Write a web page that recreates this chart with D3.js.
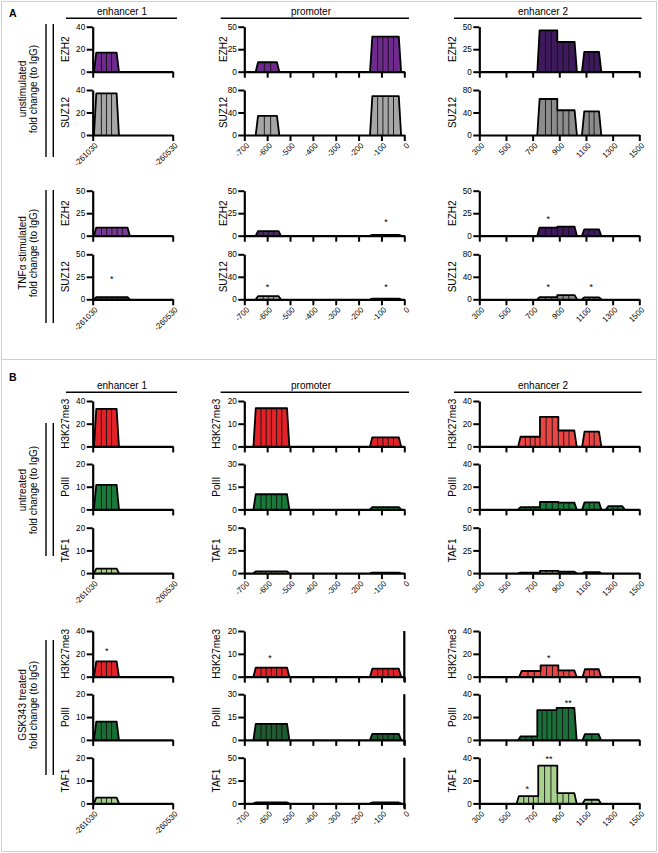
<!DOCTYPE html>
<html><head><meta charset="utf-8">
<script src="https://cdn.jsdelivr.net/npm/d3@7"></script>
<style>body{margin:0;background:#fff} svg text{font-family:"Liberation Sans",Arial,sans-serif;fill:#000}</style>
</head><body><svg id="c" width="658" height="853"></svg>
<script>
// ---------------- DATA ----------------
const columns = ["enhancer 1", "promoter", "enhancer 2"];
const enh1Ticks = [-261030, -260530];
const promTicks = [-700, -600, -500, -400, -300, -200, -100, 0];
const enh2Ticks = [300, 500, 700, 900, 1100, 1300, 1500];

// segments: [start, end, fold change]
// Panel A - unstimulated
const ezh2Unstim = [
  [[-261022, -260866, 17]],
  [[-650, -547, 10.5], [-150, -14, 39]],
  [[735, 885, 46], [885, 1032, 33], [1070, 1215, 22]]
];
const suz12Unstim = [
  [[-261022, -260866, 37]],
  [[-650, -547, 34], [-150, -14, 69]],
  [[735, 885, 64], [885, 1032, 44], [1070, 1215, 42]]
];
// Panel A - TNFα stimulated
const ezh2Tnf = [
  [[-261022, -260798, 9]],
  [[-650, -540, 5], [-150, -14, 0.8]],
  [[735, 885, 9], [885, 1032, 10], [1070, 1215, 7]]
];
const suz12Tnf = [
  [[-261022, -260798, 2.5]],
  [[-650, -540, 5.5], [-150, -14, 1.2]],
  [[735, 885, 4], [885, 1032, 7.5], [1070, 1215, 3.5]]
];
// Panel B - untreated
const h3Untr = [
  [[-261022, -260866, 33]],
  [[-660, -503, 16.8], [-150, -14, 4]],
  [[592, 755, 8.5], [755, 893, 26], [893, 1030, 14], [1072, 1215, 13]]
];
const polUntr = [
  [[-261022, -260866, 10.8]],
  [[-660, -503, 10], [-150, -14, 1.5]],
  [[592, 755, 2], [755, 893, 6.5], [893, 1030, 6], [1072, 1215, 6.2], [1250, 1390, 2.8]]
];
const tafUntr = [
  [[-261022, -260866, 2]],
  [[-660, -503, 1.8], [-150, -14, 0.5]],
  [[592, 755, 0.5], [755, 893, 2.5], [893, 1030, 1.5], [1072, 1215, 1]]
];
// Panel B - GSK343 treated
const h3Gsk = [
  [[-261022, -260866, 13.5]],
  [[-660, -503, 4], [-150, -14, 3.5]],
  [[600, 760, 5], [760, 893, 10], [893, 1030, 5.5], [1075, 1213, 6.5]]
];
const polGsk = [
  [[-261022, -260866, 8]],
  [[-660, -503, 10.5], [-150, -14, 4]],
  [[592, 735, 3], [735, 880, 26], [880, 1030, 28], [1075, 1212, 5]]
];
const tafGsk = [
  [[-261022, -260866, 2.5]],
  [[-660, -503, 1], [-150, -14, 1]],
  [[580, 742, 6.4], [742, 885, 33], [885, 1030, 9], [1075, 1212, 3.2]]
];

// y tick values per column
const ezh2UnstimTicks = [[0, 20, 40], [0, 25, 50], [0, 25, 50]];
const suz12UnstimTicks = [[0, 20, 40], [0, 40, 80], [0, 40, 80]];
const ezh2TnfTicks = [[0, 25, 50], [0, 25, 50], [0, 25, 50]];
const suz12TnfTicks = [[0, 25, 50], [0, 40, 80], [0, 40, 80]];
const h3Ticks = [[0, 20, 40], [0, 10, 20], [0, 20, 40]];
const polTicks = [[0, 10, 20], [0, 15, 30], [0, 20, 40]];
const tafUntrTicks = [[0, 10, 20], [0, 25, 50], [0, 25, 50]];
const tafGskTicks = [[0, 10, 20], [0, 25, 50], [0, 20, 40]];

// significance marks: [x, height, label]
const ezh2TnfStars = [[], [[-80, 16.7, "*"]], [[817, 20, "*"]]];
const suz12TnfStars = [[[-260911, 24, "*"]], [[-599, 23, "*"], [-80, 23, "*"]], [[817, 23, "*"], [1140, 23, "*"]]];
const h3GskStars = [[[-260942, 23.4, "*"]], [[-587, 8.75, "*"]], [[820, 17.5, "*"]]];
const polGskStars = [[], [], [[967, 33.3, "**"]]];
const tafGskStars = [[], [], [[660, 13.7, "*"], [822, 39.5, "**"]]];

// ---------------- DRAW ----------------
const svg = d3.select("#c");
const colDomains = [[-261030, -260530], [-700, 0], [300, 1500]];
const colX = [[92.7, 172.7], [244.3, 404.3], [479.3, 639.3]];
const xTicks = [enh1Ticks, promTicks, enh2Ticks];

const colors = {
  ezh2Unstim: ["#6e2a8c", "#6e2a8c", "#3e1a5c"],
  suz12Unstim: ["#a6a6a6", "#a6a6a6", "#8c8c8c"],
  ezh2Tnf: ["#7a3a98", "#4e2a62", "#3e1a5c"],
  suz12Tnf: ["#444444", "#a0a0a0", "#8c8c8c"],
  h3: ["#e32227", "#e32227", "#ea4545"],
  polUntr: ["#1a7a3a", "#1a7a3a", "#1a7a3a"],
  polGsk: ["#1a6e35", "#1f5a30", "#1a7038"],
  taf: ["#a9d18e", "#a9d18e", "#a9d18e"]
};

svg.append("rect").attr("x", 1.5).attr("y", 1.5).attr("width", 655).attr("height", 358)
  .attr("fill", "none").attr("stroke", "#cfcfcf").attr("stroke-width", 1);
svg.append("rect").attr("x", 1.5).attr("y", 359.5).attr("width", 655).attr("height", 492)
  .attr("fill", "none").attr("stroke", "#cfcfcf").attr("stroke-width", 1);

svg.append("text").attr("x", 9).attr("y", 16.8).attr("font-size", 10.5).attr("font-weight", "bold").text("A");
svg.append("text").attr("x", 9).attr("y", 380.8).attr("font-size", 10.5).attr("font-weight", "bold").text("B");

const titleCx = [122, 311, 543];
const lineSpan = [[66, 177], [220.7, 409], [454, 641.7]];
[[15, 18.3], [389, 392.3]].forEach(([ty, ly]) => {
  columns.forEach((name, i) => {
    svg.append("text").attr("x", titleCx[i]).attr("y", ty).attr("text-anchor", "middle")
      .attr("font-size", 10).text(name);
    svg.append("line").attr("x1", lineSpan[i][0]).attr("x2", lineSpan[i][1]).attr("y1", ly).attr("y2", ly)
      .attr("stroke", "#000").attr("stroke-width", 1.4);
  });
});

const groups = [
  { l: [24, 157], cy: 89, t: "unstimulated" },
  { l: [190, 323], cy: 253, t: "TNFα stimulated" },
  { l: [423, 556], cy: 490, t: "untreated" },
  { l: [640, 775], cy: 705, t: "GSK343 treated" }
];
groups.forEach(gr => {
  [46, 53.3].forEach(xx => svg.append("line").attr("x1", xx).attr("x2", xx).attr("y1", gr.l[0]).attr("y2", gr.l[1])
    .attr("stroke", "#000").attr("stroke-width", 1.4));
  svg.append("text").attr("transform", `translate(26.3,${gr.cy}) rotate(-90)`).attr("text-anchor", "middle")
    .attr("font-size", 10).text(gr.t);
  svg.append("text").attr("transform", `translate(36.8,${gr.cy}) rotate(-90)`).attr("text-anchor", "middle")
    .attr("font-size", 10).text("fold change (to IgG)");
});

function plot(col, top, h, segs, ticks, color, stars, showX, rightAxis, title, titleOff) {
  const g = svg.append("g");
  const x = d3.scaleLinear().domain(colDomains[col]).range(colX[col]);
  const y = d3.scaleLinear().domain([0, ticks[ticks.length - 1]]).range([top + h, top]);
  const y0 = y(0);
  const grs = [];
  segs.forEach(s => {
    const last = grs.length ? grs[grs.length - 1] : null;
    if (last && Math.abs(last[last.length - 1][1] - s[0]) < 1e-6) last.push(s); else grs.push([s]);
  });
  const SL = 2.3;
  grs.forEach(gr => {
    const pts = [[x(gr[0][0]), y0]];
    gr.forEach((s, i) => {
      const a = i === 0 ? x(s[0]) + SL : x(s[0]);
      const b = i === gr.length - 1 ? x(s[1]) - SL : x(s[1]);
      pts.push([a, y(s[2])], [b, y(s[2])]);
    });
    pts.push([x(gr[gr.length - 1][1]), y0]);
    g.append("path").attr("d", d3.line()(pts) + "Z").attr("fill", color);
    gr.forEach((s, i) => {
      const a = i === 0 ? x(s[0]) + SL : x(s[0]);
      const b = i === gr.length - 1 ? x(s[1]) - SL : x(s[1]);
      const n = Math.max(1, Math.round((b - a) / 5.5));
      for (let k = 1; k < n; k++) {
        const xx = a + k * (b - a) / n;
        g.append("line").attr("x1", xx).attr("x2", xx).attr("y1", y0).attr("y2", y(s[2]))
          .attr("stroke", "#111").attr("stroke-width", 0.9);
      }
      if (i > 0) {
        const xx = x(s[0]);
        g.append("line").attr("x1", xx).attr("x2", xx).attr("y1", y0).attr("y2", y(Math.min(s[2], gr[i - 1][2])))
          .attr("stroke", "#111").attr("stroke-width", 0.9);
      }
    });
    g.append("path").attr("d", d3.line()(pts)).attr("fill", "none").attr("stroke", "#000")
      .attr("stroke-width", 1.8).attr("stroke-linejoin", "round");
  });
  const ya = d3.axisLeft(y).tickValues(ticks).tickSize(6).tickSizeOuter(0).tickPadding(1.5).tickFormat(d3.format("d"));
  const gy = g.append("g").attr("transform", `translate(${colX[col][0]},0)`).call(ya);
  const xa = d3.axisBottom(x).tickValues(xTicks[col]).tickSize(6).tickSizeOuter(0)
    .tickFormat(showX ? (d => String(d)) : (() => ""));
  const gx = g.append("g").attr("transform", `translate(0,${y0})`).call(xa);
  [gy, gx].forEach(a => {
    a.attr("font-family", null).attr("font-size", null);
    a.select(".domain").attr("stroke", "#000").attr("stroke-width", 2.2);
    a.selectAll(".tick line").attr("stroke", "#000").attr("stroke-width", 2);
  });
  gy.selectAll("text").attr("font-size", 8.2).attr("fill", "#000");
  gx.selectAll("text").attr("font-size", 8).attr("fill", "#000").attr("x", 0).attr("y", 0).attr("dy", "0.35em")
    .attr("text-anchor", "end").attr("transform", "translate(3,9) rotate(-45)");
  if (rightAxis) {
    g.append("line").attr("x1", x(0)).attr("x2", x(0)).attr("y1", top).attr("y2", y0 + 5)
      .attr("stroke", "#000").attr("stroke-width", 2.2);
  }
  g.append("text").attr("transform", `translate(${colX[col][0] - titleOff},${top + h / 2}) rotate(-90)`)
    .attr("text-anchor", "middle").attr("font-size", 10).text(title);
  stars.forEach(s => {
    g.append("text").attr("x", x(s[0])).attr("y", y(s[1]) + 4).attr("text-anchor", "middle")
      .attr("font-size", 9).text(s[2]);
  });
}

const offA = [23.7, 17, 23.6];
const offB = [23.7, 24.3, 23.2];
const rows = [
  { t: "EZH2", top: 26.7, h: 45, d: ezh2Unstim, k: ezh2UnstimTicks, c: colors.ezh2Unstim, s: [[], [], []], x: false, off: offA },
  { t: "SUZ12", top: 90, h: 45, d: suz12Unstim, k: suz12UnstimTicks, c: colors.suz12Unstim, s: [[], [], []], x: true, off: offA },
  { t: "EZH2", top: 190.7, h: 45, d: ezh2Tnf, k: ezh2TnfTicks, c: colors.ezh2Tnf, s: ezh2TnfStars, x: false, off: offA },
  { t: "SUZ12", top: 254.3, h: 45, d: suz12Tnf, k: suz12TnfTicks, c: colors.suz12Tnf, s: suz12TnfStars, x: true, off: offA },
  { t: "H3K27me3", top: 401, h: 45.4, d: h3Untr, k: h3Ticks, c: colors.h3, s: [[], [], []], x: false, off: offB },
  { t: "PolII", top: 464, h: 45.4, d: polUntr, k: polTicks, c: colors.polUntr, s: [[], [], []], x: false, off: offB },
  { t: "TAF1", top: 527.7, h: 45.4, d: tafUntr, k: tafUntrTicks, c: colors.taf, s: [[], [], []], x: true, off: offB },
  { t: "H3K27me3", top: 631, h: 45.7, d: h3Gsk, k: h3Ticks, c: colors.h3, s: h3GskStars, x: false, off: offB, r: true },
  { t: "PolII", top: 694.2, h: 45.7, d: polGsk, k: polTicks, c: colors.polGsk, s: polGskStars, x: false, off: offB, r: true },
  { t: "TAF1", top: 757.7, h: 45.7, d: tafGsk, k: tafGskTicks, c: colors.taf, s: tafGskStars, x: true, off: offB, r: true }
];
rows.forEach(r => {
  for (let c = 0; c < 3; c++) {
    plot(c, r.top, r.h, r.d[c], r.k[c], r.c[c], r.s[c], r.x, r.r && c === 1, r.t, r.off[c]);
  }
});
</script></body></html>
